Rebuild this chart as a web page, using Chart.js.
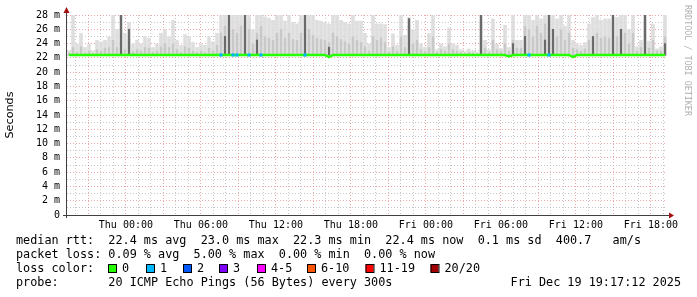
<!DOCTYPE html>
<html><head><meta charset="utf-8">
<script src="https://cdn.jsdelivr.net/npm/chart.js@4.4.1/dist/chart.umd.min.js"></script>
<style>html,body{margin:0;padding:0;background:#fff;overflow:hidden}#wrap{width:697px;height:297px;position:relative}</style>
</head><body><div id="wrap"><canvas id="c" width="697" height="297"></canvas></div>
<script>
// ---- data (ms), 150 bins of ~20 min over 48 h ending Fri Dec 19 19:17:12 ----
const smokeMax = [
23,28,24,25.5,23.5,24,23,24.5,24.3,24.5,
25,28,26,28,25.5,27,24,24.5,24,25,
24.8,23.5,24,25.5,26,25,27.3,24.5,23.8,25.3,
25,24.2,23.5,24,23.8,25,24.3,25.5,28,28,
28,28,28,28,28,28,26,28,28,27.8,
27.6,27.3,28,28,27.2,28,27,26.8,28,28,
28,28,27.3,27.2,27,26.8,28,28,27.3,27,
26.8,28,27.2,27.2,25.5,24,28,26.8,26.8,26.7,
23.5,25.4,23.8,28,25.2,27.7,26,27.3,24,23.5,
25.5,28,23.2,24,23.6,26.2,24,23.8,23.2,22.9,
23.3,23,22.8,28,24.5,23.2,27.5,24,23.3,26.6,
23.5,28,24.5,24.5,28,28,27.3,28,27.5,28,
28,28,27.5,28,26.5,28,24.5,24,23.8,24.2,
26.8,27.7,28,27.3,27.5,27.5,28,27.7,28,28,
26,28,23.6,24.5,28,24.4,26.8,23.3,23.6,28
];
const smokeMid = [
22.7,23.5,22.8,23.6,22.7,23,22.6,23.2,23,23.4,
23.5,24.5,23.5,26,23.2,24.8,22.9,23.2,23,23.5,
23.4,22.8,23,23.6,24,23.5,24,23.2,22.8,23.6,
23.4,23,22.8,23,22.8,23.4,23,23.8,25.5,26.5,
27.5,26,25.5,26.5,27,26,24,25.5,26.5,25,
24.8,24.5,25.5,26,24.8,25.5,24.6,24.5,25.5,27.5,
26,25.2,24.8,24.6,24.5,24.2,25.5,25,24.6,24.3,
24,25,24.5,24.2,23.6,23,25,24.5,24.8,24.2,
22.9,23.6,23,25,23.5,26.5,24,24.5,23.2,22.9,
23.5,25,22.8,23.2,23,24,23.2,23,22.8,22.7,
22.8,22.7,22.6,27,23.4,22.8,24.5,23.2,22.9,24,
23,24.5,23.4,23.4,26.5,26,25,26.5,25.5,26.8,
27.5,26,25,26,24.5,25.5,23.4,23.2,23,23.3,
24.5,25,25.5,24.8,25,24.8,27,25,26,25.5,
24,25.5,23,23.5,27,23.4,24.5,23,23,25
];
const darkBins = [13,15,39,40,44,47,59,65,85,103,111,114,119,120,121,131,136,138,144,149];
const darkTops = [28,26,25,28,28,24.5,28,23.5,27.5,28,24,25,24.5,28,26,25,28,26,28,24];
const medianRtt = [
22.4,22.4,22.4,22.4,22.4,22.4,22.4,22.4,22.4,22.4,
22.4,22.4,22.4,22.4,22.4,22.4,22.4,22.4,22.4,22.4,
22.4,22.4,22.4,22.4,22.4,22.4,22.4,22.4,22.4,22.4,
22.4,22.4,22.4,22.4,22.4,22.4,22.4,22.4,22.4,22.4,
22.4,22.4,22.4,22.4,22.4,22.4,22.4,22.4,22.4,22.4,
22.4,22.4,22.4,22.4,22.4,22.4,22.4,22.4,22.4,22.4,
22.4,22.4,22.4,22.4,22.4,22.1,22.4,22.4,22.4,22.4,
22.4,22.4,22.4,22.4,22.4,22.4,22.4,22.4,22.4,22.4,
22.4,22.4,22.4,22.4,22.4,22.4,22.4,22.4,22.4,22.4,
22.4,22.4,22.4,22.4,22.4,22.4,22.4,22.4,22.4,22.4,
22.4,22.4,22.4,22.4,22.4,22.4,22.4,22.4,22.4,22.4,
22.2,22.4,22.4,22.4,22.4,22.4,22.4,22.4,22.4,22.4,
22.4,22.4,22.4,22.4,22.4,22.4,22.1,22.4,22.4,22.4,
22.4,22.4,22.4,22.4,22.4,22.4,22.4,22.4,22.4,22.4,
22.4,22.4,22.4,22.4,22.4,22.4,22.4,22.4,22.4,22.4
];
const lossBins   = [38,41,42,45,48,59,115,120];
const lossCounts = [1,1,1,1,1,1,1,1];
const lossLabels = ['0','1','2','3','4-5','6-10','11-19','20/20'];
const lossColors = ['#26ff00','#00b8ff','#0059ff','#7e00ff','#ff00ff','#ff5500','#ff0000','#a10000'];
const xTickLabels = ['Thu 00:00','Thu 06:00','Thu 12:00','Thu 18:00','Fri 00:00','Fri 06:00','Fri 12:00','Fri 18:00'];
const startHour = 19 + 17/60 + 12/3600;   // Wed 19:17:12
const spanHours = 48;
const smokeBase = 22.25;
const legendRtt  = 'median rtt:  22.4 ms avg  23.0 ms max  22.3 ms min  22.4 ms now  0.1 ms sd  400.7   am/s';
const legendLoss = 'packet loss: 0.09 % avg  5.00 % max  0.00 % min  0.00 % now';
const legendProbe = 'probe:       20 ICMP Echo Pings (56 Bytes) every 300s';
const stampText = 'Fri Dec 19 19:17:12 2025';

// ---- build ----
const binLabels = smokeMax.map((_, i) => String(i));
const darkData = smokeMax.map((_, i) => { const k = darkBins.indexOf(i); return k >= 0 ? [22.4, darkTops[k]] : null; });
function lossLevel(n){ if(n<=0)return 0; if(n<=3)return n; if(n<=5)return 4; if(n<=10)return 5; if(n<=19)return 6; return 7; }
const lossData = medianRtt.map((v, i) => lossBins.includes(i) ? v : null);

const MONO = '"DejaVu Sans Mono", monospace';
const MAJ = 'rgba(230,130,130,0.7)';
const MIN = 'rgba(170,170,170,0.65)';

const deco = {
  id: 'deco',
  afterDraw(chart) {
    const ctx = chart.ctx, a = chart.chartArea;
    ctx.save();
    ctx.strokeStyle = '#404040'; ctx.lineWidth = 1;
    ctx.beginPath();
    ctx.moveTo(a.left - 0.5, a.bottom + 3); ctx.lineTo(a.left - 0.5, a.top - 4);
    ctx.moveTo(a.left - 4, a.bottom + 0.5); ctx.lineTo(a.right + 3, a.bottom + 0.5);
    ctx.stroke();
    ctx.fillStyle = '#a01010';
    ctx.beginPath();
    ctx.moveTo(a.left - 3.5, a.top - 2); ctx.lineTo(a.left + 2.5, a.top - 2); ctx.lineTo(a.left - 0.5, a.top - 8); ctx.closePath(); ctx.fill();
    ctx.beginPath();
    ctx.moveTo(a.right + 2, a.bottom - 2.5); ctx.lineTo(a.right + 2, a.bottom + 3.5); ctx.lineTo(a.right + 7, a.bottom + 0.5); ctx.closePath(); ctx.fill();
    ctx.fillStyle = '#000';
    ctx.font = '11.8px ' + MONO;
    ctx.textBaseline = 'middle'; ctx.textAlign = 'left';
    ctx.fillText(legendRtt, 16, 241);
    ctx.fillText(legendLoss, 16, 255);
    ctx.fillText('loss color:', 16, 269);
    ctx.fillText(legendProbe, 16, 283);
    ctx.textAlign = 'right';
    ctx.fillText(stampText, 681, 283);
    ctx.textAlign = 'left';
    const boxX = [108, 146, 183, 219, 257, 307, 365.5, 430.5];
    lossLabels.forEach((lab, i) => {
      ctx.fillStyle = lossColors[i];
      ctx.fillRect(boxX[i], 264.5, 8, 8);
      ctx.strokeStyle = '#000'; ctx.lineWidth = 1;
      ctx.strokeRect(boxX[i] + 0.5, 264.5, 8, 8);
      ctx.fillStyle = '#000';
      ctx.fillText(lab, boxX[i] + 14, 269);
    });
    ctx.save();
    ctx.translate(687, 5);
    ctx.rotate(Math.PI / 2);
    ctx.fillStyle = '#b0b0b0';
    ctx.font = '8.4px ' + MONO;
    ctx.textBaseline = 'middle';
    ctx.fillText('RRDTOOL / TOBI OETIKER', 0, 0);
    ctx.restore();
    ctx.restore();
  }
};

Chart.defaults.font.family = MONO;
Chart.defaults.color = '#000';

function xGridColor(c) {
  if (!c || !c.tick) return MIN;
  const hod = Math.round(c.tick.value + startHour) % 24;
  return hod % 3 === 0 ? MAJ : MIN;
}
function yGridColor(c) {
  if (!c || !c.tick) return MIN;
  return Math.round(c.tick.value) % 2 === 0 ? MAJ : MIN;
}

new Chart(document.getElementById('c'), {
  type: 'bar',
  data: {
    labels: binLabels,
    datasets: [
      { type: 'line', data: lossData, xAxisID: 'xb', yAxisID: 'y', showLine: false,
        pointStyle: 'rect', pointRadius: 2.2, pointBorderWidth: 0,
        pointBackgroundColor: c => { const k = lossBins.indexOf(c.dataIndex); return lossColors[lossLevel(k >= 0 ? lossCounts[k] : 0)]; } },
      { type: 'line', data: medianRtt, xAxisID: 'xb', yAxisID: 'y', borderColor: lossColors[0],
        borderWidth: 2.5, pointRadius: 0, tension: 0 },
      { data: darkData, xAxisID: 'xb', yAxisID: 'y', backgroundColor: '#6a6a6a', grouped: false, barThickness: 1.5, borderWidth: 0 },
      { data: smokeMid.map(v => [smokeBase, v]), xAxisID: 'xb', yAxisID: 'y', backgroundColor: '#c8c8c8', grouped: false, barPercentage: 0.6, categoryPercentage: 1, borderWidth: 0 },
      { data: smokeMax.map(v => [smokeBase, v]), xAxisID: 'xb', yAxisID: 'y', backgroundColor: '#dedede', grouped: false, barPercentage: 0.9, categoryPercentage: 1, borderWidth: 0 }
    ]
  },
  options: {
    responsive: false, animation: false, events: [],
    layout: { padding: { left: 0, top: 15, right: 30, bottom: 0 } },
    plugins: { legend: { display: false }, tooltip: { enabled: false } },
    scales: {
      xb: { type: 'category', display: false, offset: true },
      xt: {
        type: 'linear', position: 'bottom', min: 0, max: spanHours, offset: false,
        afterBuildTicks: s => { const t = []; for (let h = Math.ceil(startHour); h <= startHour + spanHours; h++) t.push({ value: h - startHour }); s.ticks = t; },
        afterFit: s => { s.height = 82; },
        grid: { drawTicks: false, lineWidth: 1, color: xGridColor, offset: false },
        border: { display: false, dash: [1, 2] },
        ticks: { autoSkip: false, maxRotation: 0, padding: 4, font: { size: 10, family: MONO },
          callback: v => { const h = Math.round(v + startHour); if (h % 6 !== 0) return ''; return xTickLabels[(h - 24) / 6] || ''; } }
      },
      y: {
        min: 0, max: 28,
        afterFit: s => { s.width = 67; },
        grid: { drawTicks: false, lineWidth: 1, color: yGridColor },
        border: { display: false, dash: [1, 2] },
        title: { display: true, text: 'Seconds', font: { size: 11.2, family: '"DejaVu Sans", sans-serif' }, padding: { top: 3, bottom: 0 } },
        ticks: { stepSize: 1, autoSkip: false, padding: 7, font: { size: 10, family: MONO },
          callback: v => (v === 0 ? '0' : (v % 2 === 0 ? v + ' m' : '')) }
      }
    }
  },
  plugins: [deco]
});
</script></body></html>
